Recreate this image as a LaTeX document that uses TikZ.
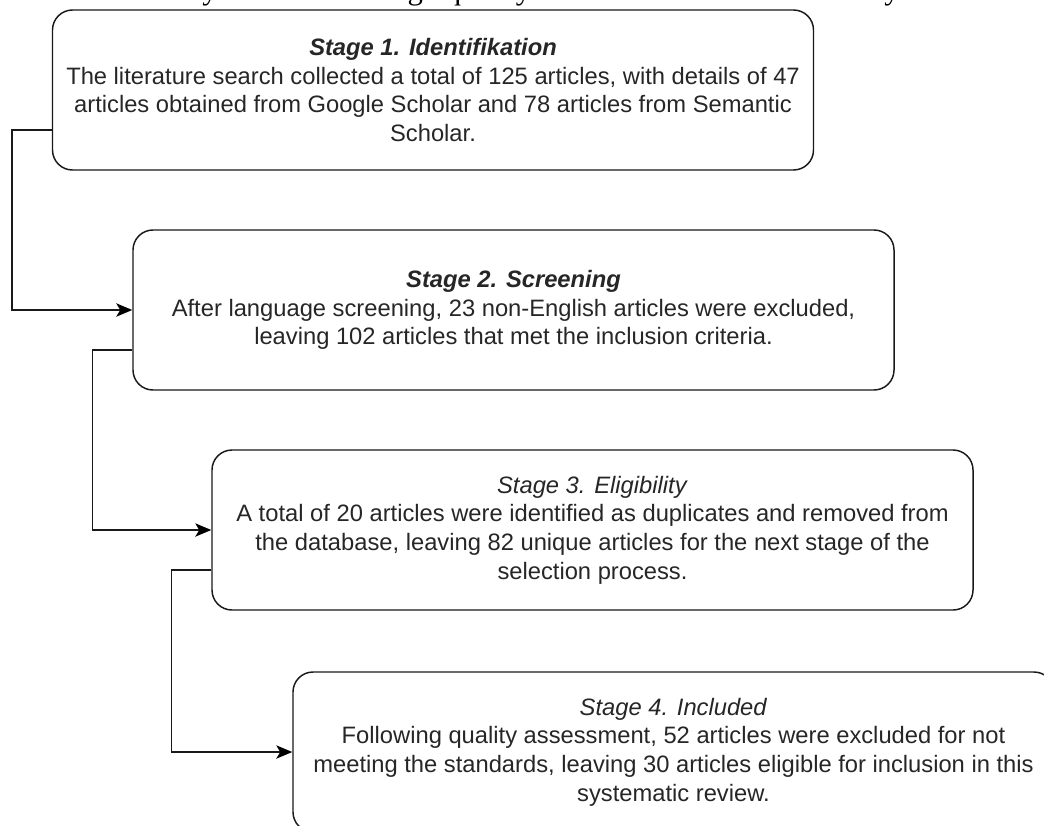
\documentclass[tikz,border=0pt]{standalone}
\usepackage{fontspec}
\setmainfont{Liberation Sans}
\newfontfamily\paperfont{Liberation Serif}
\usetikzlibrary{arrows.meta}

\begin{document}
\begin{tikzpicture}[x=0.75pt,y=-0.75pt]
	\useasboundingbox (0,0) rectangle (1044,825);
	\clip (0,0) rectangle (1044,825);

	% line of the paper above the figure, cut by the page
	\node[anchor=base east, inner sep=0pt, font=\paperfont\fontsize{23}{26}\selectfont] (intro) at (940,-1) {ensures that only relevant and high quality sources are selected for analysis.};

	\begin{scope}[every node/.style={draw=black!90, rounded corners=15pt, line width=1.1pt,
	              minimum width=570.75pt, minimum height=120pt, inner sep=0pt,
	              align=center, text=black!85, font=\fontsize{17.8}{21.5}\selectfont}]
		\node (1) at (433,90) {\textbf{\textit{Stage 1. Identifikation}}\\
			The literature search collected a total of 125 articles, with details of 47\\
			articles obtained from Google Scholar and 78 articles from Semantic\\
			Scholar.};
		\node (2) at (513.5,310) {\textbf{\textit{Stage 2. Screening}}\\
			After language screening, 23 non-English articles were excluded,\\
			leaving 102 articles that met the inclusion criteria.};
		\node (3) at (592.5,530) {\textit{Stage 3. Eligibility}\\
			A total of 20 articles were identified as duplicates and removed from\\
			the database, leaving 82 unique articles for the next stage of the\\
			selection process.};
		\node (4) at (673.5,752) {\textit{Stage 4. Included}\\
			Following quality assessment, 52 articles were excluded for not\\
			meeting the standards, leaving 30 articles eligible for inclusion in this\\
			systematic review.};
	\end{scope}

	\begin{scope}[>={Stealth[black, length=12pt, width=10pt, inset=3pt]},
	              every path/.style={draw=black!90, line width=1.1pt}]
		\draw[->] ([yshift=-30pt]1.west) -- ++(-30pt,0) |- (2.west);
		\draw[->] ([yshift=-30pt]2.west) -- ++(-30pt,0) |- (3.west);
		\draw[->] ([yshift=-30pt]3.west) -- ++(-30pt,0) |- (4.west);
	\end{scope}
\end{tikzpicture}
\end{document}
